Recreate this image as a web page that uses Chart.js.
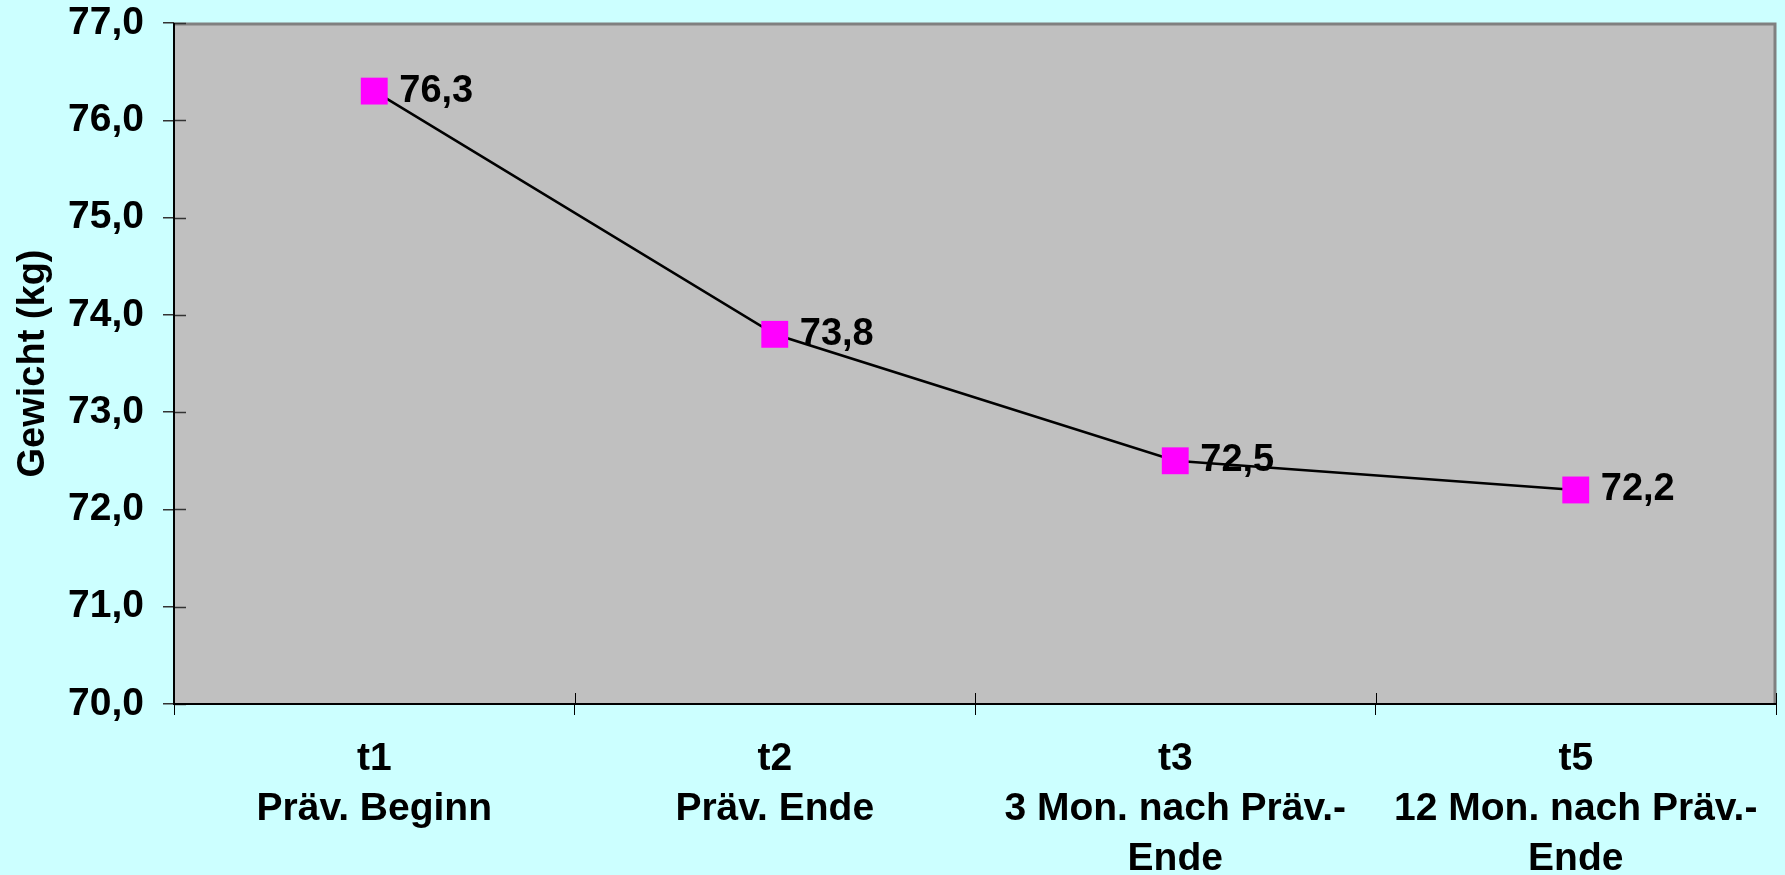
<!DOCTYPE html>
<html>
<head>
<meta charset="utf-8">
<script src="https://cdn.jsdelivr.net/npm/chart.js@4/dist/chart.umd.min.js"></script>
<style>
  html, body { margin: 0; padding: 0; background: #CCFFFF; overflow: hidden; }
  #wrap { width: 1785px; height: 875px; position: relative; }
  #c { display: block; }
</style>
</head>
<body>
<div id="wrap"><canvas id="c" width="1785" height="875"></canvas></div>
<script>
// Measurement points and their descriptions
const categories = [
  ['t1', 'Präv. Beginn'],
  ['t2', 'Präv. Ende'],
  ['t3', '3 Mon. nach Präv.-', 'Ende'],
  ['t5', '12 Mon. nach Präv.-', 'Ende']
];
// Mean body weight in kg
const weights = [76.3, 73.8, 72.5, 72.2];
// Value axis range
const yMin = 70;
const yMax = 77;
const yStep = 1;
const yTitle = 'Gewicht (kg)';

const FONT = "'Liberation Sans', Arial, sans-serif";
const fmt = v => Number(v).toFixed(1).replace('.', ',');

// Grey plot area with a darker frame on top and right
const plotFrame = {
  id: 'plotFrame',
  beforeDatasetsDraw(chart) {
    const { ctx, chartArea: a } = chart;
    ctx.save();
    ctx.fillStyle = '#C0C0C0';
    ctx.fillRect(a.left, a.top, a.right - a.left, a.bottom - a.top);
    ctx.strokeStyle = '#808080';
    ctx.lineWidth = 3;
    ctx.beginPath();
    ctx.moveTo(a.left, a.top + 1);
    ctx.lineTo(a.right - 1, a.top + 1);
    ctx.lineTo(a.right - 1, a.bottom);
    ctx.stroke();
    // inner halves of the tick marks (they cross the axis lines)
    ctx.strokeStyle = '#333333';
    ctx.lineWidth = 1.5;
    const ys = chart.scales.y;
    ys.ticks.forEach(t => {
      const py = Math.round(ys.getPixelForValue(t.value)) + 0.5;
      ctx.beginPath();
      ctx.moveTo(a.left, py);
      ctx.lineTo(a.left + 12, py);
      ctx.stroke();
    });
    const xs = chart.scales.x;
    const n = categories.length;
    ctx.strokeStyle = '#000000';
    ctx.lineWidth = 1;
    for (let i = 0; i <= n; i++) {
      const px = Math.round(xs.left + i * (xs.width / n)) + 0.5;
      ctx.beginPath();
      ctx.moveTo(px, a.bottom);
      ctx.lineTo(px, a.bottom - 11);
      ctx.stroke();
    }
    // axis lines
    ctx.strokeStyle = '#000000';
    ctx.lineWidth = 2;
    ctx.beginPath();
    ctx.moveTo(a.left, a.top);
    ctx.lineTo(a.left, a.bottom);
    ctx.lineTo(a.right, a.bottom);
    ctx.stroke();
    ctx.restore();
  }
};

// Value labels right of each marker
const valueLabels = {
  id: 'valueLabels',
  afterDatasetsDraw(chart) {
    const { ctx } = chart;
    const meta = chart.getDatasetMeta(0);
    ctx.save();
    ctx.font = 'bold 38px ' + FONT;
    ctx.fillStyle = '#000000';
    ctx.textAlign = 'left';
    ctx.textBaseline = 'middle';
    meta.data.forEach((pt, i) => {
      ctx.fillText(fmt(chart.data.datasets[0].data[i]), pt.x + 25, pt.y);
    });
    ctx.restore();
  }
};

new Chart(document.getElementById('c'), {
  type: 'line',
  data: {
    labels: categories,
    datasets: [{
      data: weights,
      borderColor: '#000000',
      borderWidth: 2.5,
      pointStyle: 'rect',
      pointRadius: 19,
      pointHoverRadius: 19,
      pointBackgroundColor: '#FF00FF',
      pointBorderColor: '#FF00FF',
      pointBorderWidth: 0,
      tension: 0
    }]
  },
  options: {
    responsive: false,
    animation: false,
    events: [],
    layout: { autoPadding: false, padding: { top: 23, right: 9, bottom: 0, left: 0 } },
    plugins: {
      legend: { display: false },
      tooltip: { enabled: false }
    },
    scales: {
      x: {
        type: 'category',
        offset: true,
        border: { display: false },
        grid: {
          offset: true,
          drawOnChartArea: false,
          drawTicks: true,
          tickLength: 11,
          color: '#000000',
          lineWidth: 1
        },
        ticks: {
          color: '#000000',
          font: { family: FONT, size: 39, weight: 'bold', lineHeight: 1.28 },
          padding: 19,
          maxRotation: 0,
          autoSkip: false
        },
        afterFit(scale) {
          scale.height = 171;
          scale.paddingLeft = 0;
          scale.paddingRight = 0;
        }
      },
      y: {
        min: yMin,
        max: yMax,
        border: { display: false },
        grid: {
          drawOnChartArea: false,
          drawTicks: true,
          tickLength: 11,
          color: '#333333',
          lineWidth: 1.5
        },
        ticks: {
          stepSize: yStep,
          color: '#000000',
          font: { family: FONT, size: 39, weight: 'bold' },
          padding: 19,
          callback: v => fmt(v)
        },
        title: {
          display: true,
          text: yTitle,
          color: '#000000',
          font: { family: FONT, size: 38, weight: 'bold' },
          padding: { top: 11, bottom: 0 }
        },
        afterFit(scale) {
          scale.width = 174;
          scale.paddingTop = 0;
          scale.paddingBottom = 0;
        }
      }
    }
  },
  plugins: [plotFrame, valueLabels]
});
</script>
</body>
</html>
